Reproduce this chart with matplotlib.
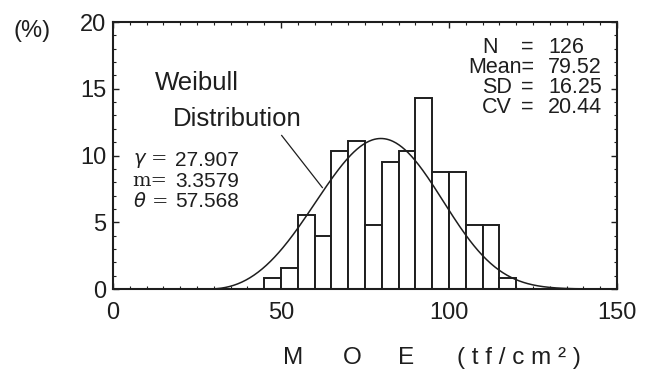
import numpy as np
import matplotlib
matplotlib.use("Agg")
from matplotlib import pyplot as plt
from matplotlib.ticker import MultipleLocator

plt.rcParams['font.family'] = ['Liberation Sans', 'DejaVu Sans']

# MOE histogram, 5 tf/cm2 classes, counts out of N = 126
bin_edges = [45, 50, 55, 60, 65, 70, 75, 80, 85, 90, 95, 100, 105, 110, 115, 120]
counts = [1, 2, 7, 5, 13, 14, 6, 12, 13, 18, 11, 11, 6, 6, 1]
n_total = 126

# fitted 3-parameter Weibull
gamma_w = 27.907
m_w = 3.3579
theta_w = 57.568

stats_labels = ['N', 'Mean=', 'SD', 'CV']
stats_values = ['126', '79.52', '16.25', '20.44']

fig = plt.figure(figsize=(6.51, 3.75), dpi=100)
ax = fig.add_axes([0.1736, 0.2293, 0.9478 - 0.1736, 0.9413 - 0.2293])

ink = '#1e1e1e'

pct = np.array(counts) / n_total * 100
width = np.diff(bin_edges)
ax.bar(bin_edges[:-1], pct, width=width, align='edge',
       facecolor='white', edgecolor=ink, linewidth=1.4, zorder=2)

bw = bin_edges[1] - bin_edges[0]
x = np.linspace(gamma_w, 150, 400)
z = (x - gamma_w) / theta_w
pdf = m_w / theta_w * z ** (m_w - 1) * np.exp(-z ** m_w)
ax.plot(x, pdf * bw * 100, color=ink, linewidth=1.1, zorder=3)

ax.set_xlim(0, 150)
ax.set_ylim(0, 20)
ax.xaxis.set_major_locator(MultipleLocator(50))
ax.xaxis.set_minor_locator(MultipleLocator(5))
ax.yaxis.set_major_locator(MultipleLocator(5))
ax.yaxis.set_minor_locator(MultipleLocator(1))
ax.tick_params(which='both', direction='in', top=True, right=True,
               labelsize=17, color=ink, labelcolor=ink)
ax.tick_params(which='major', length=4, width=1)
ax.tick_params(which='minor', length=2.5, width=0.8)
ax.tick_params(axis='x', pad=9)
ax.tick_params(axis='y', pad=5)
for s in ax.spines.values():
    s.set_linewidth(1.5)
    s.set_color(ink)

fig.text(0.020, 0.918, '(%)', fontsize=17, va='center', ha='left', color=ink)

# axis title, letters spread out
for xp, ch in zip([283, 343, 398], ['M', 'O', 'E']):
    fig.text(xp / 651, 1 - 358 / 375, ch, fontsize=17.5, va='center', ha='left', color=ink)
fig.text(457 / 651, 1 - 358 / 375, '( t f / c m ² )', fontsize=17.5,
         va='center', ha='left', color=ink)

ax.text(12.5, 15.4, 'Weibull', fontsize=18.5, ha='left', va='center', color=ink)
ax.text(17.8, 12.7, 'Distribution', fontsize=18.5, ha='left', va='center', color=ink)
ax.plot([50.2, 62.3], [11.5, 7.6], color=ink, linewidth=0.9)

param_names = [r'$\gamma$ =', 'm=', r'$\theta$ =']
param_vals = ['%.3f' % gamma_w, '%.4f' % m_w, '%.3f' % theta_w]
for i, (nm, val) in enumerate(zip(param_names, param_vals)):
    yy = 9.6 - 1.53 * i
    ax.text(5.8, yy, nm, fontsize=14, family='DejaVu Serif', ha='left', va='center', color=ink)
    ax.text(18.5, yy, val, fontsize=15, ha='left', va='center', color=ink)

for i, (nm, val) in enumerate(zip(stats_labels, stats_values)):
    yy = 18.1 - 1.5 * i
    if nm.endswith('='):
        ax.text(105.7, yy, nm, fontsize=15.5, ha='left', va='center', color=ink)
    else:
        ax.text(109.8, yy, nm, fontsize=15.5, ha='left', va='center', color=ink)
        ax.text(123.3, yy, '=', fontsize=15.5, ha='center', va='center', color=ink)
    ax.text(129.5, yy, val, fontsize=15.5, ha='left', va='center', color=ink)

fig.savefig('out.png', dpi=100)
